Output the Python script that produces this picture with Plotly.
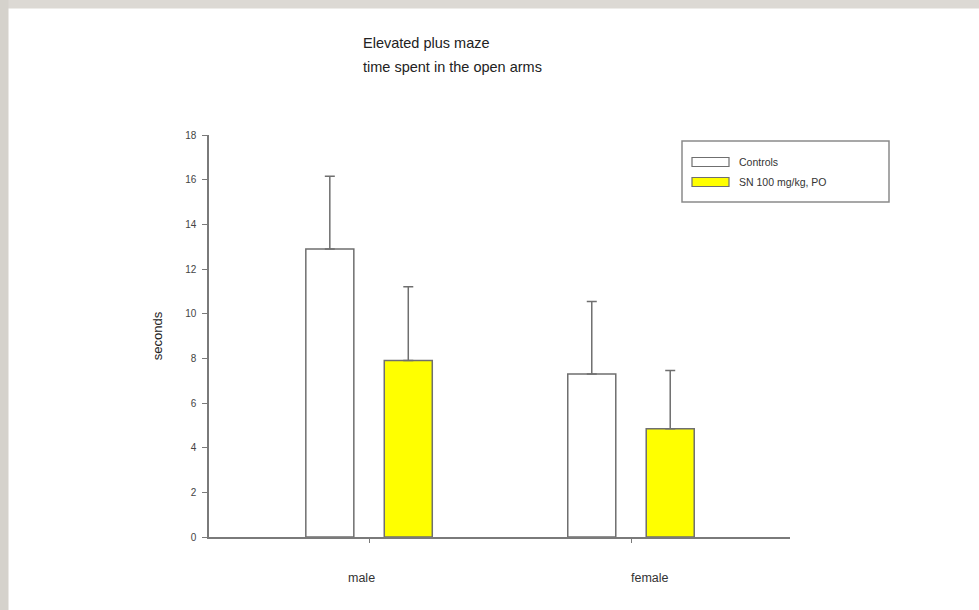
import plotly.graph_objects as go

# Elevated plus maze: time spent in the open arms (mean + SD, seconds)
categories = ["male", "female"]
series_names = ["Controls", "SN 100 mg/kg, PO"]
controls_mean = [12.9, 7.3]
controls_sd = [3.25, 3.25]
sn_mean = [7.9, 4.85]
sn_sd = [3.3, 2.6]
y_ticks = [0, 2, 4, 6, 8, 10, 12, 14, 16, 18]

title_lines = ["Elevated plus maze", "time spent in the open arms"]
y_title = "seconds"

# Canvas and plot-area geometry (pixels)
W, H = 979, 610
L, R, T, B = 209, 790, 135, 537

EDGE = "#6f6f6f"
FONT = "Liberation Sans, Arial, sans-serif"


def px_x(x):
    return (x - L) / (R - L)


def px_y(y):
    return (B - y) / (B - T)


fig = go.Figure()
fills = ["#ffffff", "#ffff00"]
means = [controls_mean, sn_mean]
sds = [controls_sd, sn_sd]
for name, fill, m, s in zip(series_names, fills, means, sds):
    fig.add_trace(go.Bar(
        x=categories, y=m, name=name,
        marker=dict(color=fill, line=dict(color=EDGE, width=1.5)),
        error_y=dict(type="data", symmetric=False, array=s,
                     arrayminus=[0] * len(s), color=EDGE,
                     thickness=1.5, width=5),
        showlegend=False,
    ))

shapes = []
# light grey page frame along the top and left edges
shapes.append(dict(type="rect", xref="paper", yref="paper", layer="below",
                   x0=px_x(0), x1=px_x(W), y0=px_y(0), y1=px_y(8.5),
                   fillcolor="#dcd9d4", line=dict(width=0)))
shapes.append(dict(type="rect", xref="paper", yref="paper", layer="below",
                   x0=px_x(0), x1=px_x(8.5), y0=px_y(0), y1=px_y(H),
                   fillcolor="#d5d2cc", line=dict(width=0)))

# legend box with wide swatches
shapes.append(dict(type="rect", xref="paper", yref="paper",
                   x0=px_x(682), x1=px_x(889), y0=px_y(141), y1=px_y(202),
                   fillcolor="#ffffff", line=dict(color="#8a8a8a", width=1.5)))
annotations = []
for i, (name, fill) in enumerate(zip(series_names, fills)):
    cy = 162 + 20 * i
    shapes.append(dict(type="rect", xref="paper", yref="paper",
                       x0=px_x(692), x1=px_x(729), y0=px_y(cy - 4.5), y1=px_y(cy + 4.5),
                       fillcolor=fill, line=dict(color=EDGE, width=1.2)))
    annotations.append(dict(text=name, xref="paper", yref="paper",
                            x=px_x(737), y=px_y(cy), xanchor="left", yanchor="middle",
                            showarrow=False, font=dict(size=10.5, color="#333333", family=FONT)))

# two-line title, left aligned
for i, line in enumerate(title_lines):
    annotations.append(dict(text=line, xref="paper", yref="paper",
                            x=px_x(361), y=px_y(43 + 24 * i), xanchor="left", yanchor="middle",
                            showarrow=False, font=dict(size=14.5, color="#222222", family=FONT)))

# category labels under the axis
label_shift = [-8, 19]
for cat, sh in zip(categories, label_shift):
    annotations.append(dict(text=cat, x=cat, xref="x", yref="paper",
                            y=px_y(578), xshift=sh, xanchor="center", yanchor="middle",
                            showarrow=False, font=dict(size=12.5, color="#333333", family=FONT)))

fig.update_layout(
    width=W, height=H,
    margin=dict(l=L, r=W - R, t=T, b=H - B, pad=0),
    paper_bgcolor="#ffffff", plot_bgcolor="#ffffff",
    barmode="group", bargap=0.401, bargroupgap=0.388,
    shapes=shapes, annotations=annotations,
    font=dict(family=FONT, color="#333333"),
    xaxis=dict(
        type="category", range=[-0.611, 1.607],
        showgrid=False, zeroline=False,
        showline=True, linecolor="#7a7a7a", linewidth=1.5,
        ticks="outside", ticklen=4, tickcolor="#7a7a7a", tickwidth=1,
        showticklabels=False,
    ),
    yaxis=dict(
        range=[0, 18], tickvals=y_ticks,
        showgrid=False, zeroline=False,
        showline=True, linecolor="#7a7a7a", linewidth=1.5,
        ticks="outside", ticklen=5, tickcolor="#7a7a7a", tickwidth=1,
        tickfont=dict(size=10, color="#444444", family=FONT),
        ticklabelstandoff=4,
        title=dict(text=y_title, standoff=20,
                   font=dict(size=13, color="#222222", family=FONT)),
    ),
)

fig.write_html("out.html")
